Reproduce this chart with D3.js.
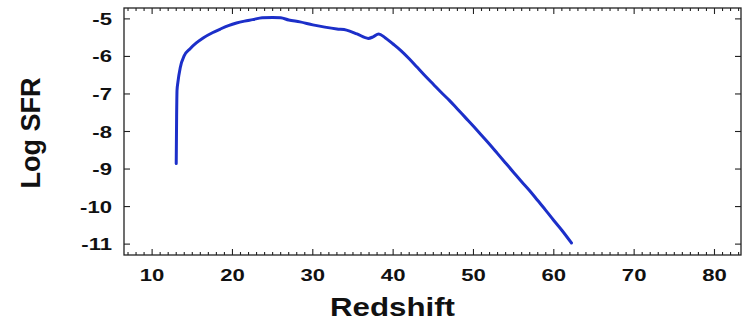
<!DOCTYPE html>
<html>
<head>
<meta charset="utf-8">
<script src="https://cdn.jsdelivr.net/npm/d3@7"></script>
<style>
  html, body { margin: 0; padding: 0; background: #fff; }
  svg { display: block; }
  text { font-family: "Liberation Sans", Arial, sans-serif; font-weight: bold; fill: #111; }
</style>
</head>
<body>
<svg id="chart" width="743" height="320"></svg>
<script>
// Star formation rate history: redshift vs log SFR
const redshift = [13.0, 13.05, 13.1, 13.2, 13.5, 14.0, 14.7, 15.5, 16.4, 17.5, 18.5, 19.5, 20.5, 21.5, 22.5,
  23.7, 25.0, 26.0, 27.0, 28.4, 30.0, 31.5, 33.0, 34.2, 35.5, 36.9, 37.5, 38.2, 39.0, 40.0,
  41.0, 42.0, 43.0, 44.0, 45.0, 46.0, 47.0, 48.0, 49.0, 50.0, 51.0, 52.0, 53.0, 54.0, 55.0,
  56.0, 57.0, 58.0, 59.0, 60.0, 61.0, 62.2];
const logSFR = [-8.85, -7.6, -6.9, -6.7, -6.3, -5.98, -5.8, -5.64, -5.5, -5.37, -5.27, -5.18, -5.11, -5.06, -5.02,
  -4.97, -4.96, -4.97, -5.03, -5.08, -5.16, -5.22, -5.27, -5.30, -5.40, -5.52, -5.48, -5.40, -5.50, -5.67,
  -5.85, -6.06, -6.29, -6.52, -6.74, -6.96, -7.17, -7.40, -7.63, -7.86, -8.10, -8.34, -8.59, -8.84, -9.09,
  -9.34, -9.58, -9.84, -10.10, -10.37, -10.63, -10.97];
const xTicks = [10, 20, 30, 40, 50, 60, 70, 80];
const yTicks = [-5, -6, -7, -8, -9, -10, -11];
const xMinorTicks = d3.range(7, 84, 1).filter(v => v % 10 !== 0);

const svg = d3.select("#chart");
const plot = { left: 124, top: 8, right: 741, bottom: 255 };

const x = d3.scaleLinear().domain([6.5, 83.3]).range([plot.left, plot.right]);
const y = d3.scaleLinear().domain([-4.71, -11.29]).range([plot.top, plot.bottom]);

// Frame
svg.append("rect")
  .attr("x", plot.left).attr("y", plot.top)
  .attr("width", plot.right - plot.left).attr("height", plot.bottom - plot.top)
  .attr("fill", "none").attr("stroke", "#222").attr("stroke-width", 1.3);

// Inward ticks on all four sides
const tickG = svg.append("g").attr("stroke", "#222").attr("stroke-width", 1.1);
function hTicks(values, len) {
  values.forEach(v => {
    tickG.append("line").attr("x1", x(v)).attr("x2", x(v)).attr("y1", plot.bottom).attr("y2", plot.bottom - len);
    tickG.append("line").attr("x1", x(v)).attr("x2", x(v)).attr("y1", plot.top).attr("y2", plot.top + len);
  });
}
hTicks(xTicks, 6);
hTicks(xMinorTicks, 3);
yTicks.forEach(v => {
  tickG.append("line").attr("x1", plot.left).attr("x2", plot.left + 6).attr("y1", y(v)).attr("y2", y(v));
  tickG.append("line").attr("x1", plot.right).attr("x2", plot.right - 6).attr("y1", y(v)).attr("y2", y(v));
});

// Tick labels (wide bold face)
const sx = 1.3;
svg.append("g").selectAll("text").data(xTicks).join("text")
  .attr("transform", d => `translate(${x(d)},${281}) scale(${sx},1)`)
  .attr("text-anchor", "middle")
  .attr("font-size", 17)
  .text(d => d);

svg.append("g").selectAll("text").data(yTicks).join("text")
  .attr("transform", d => `translate(112,${y(d) + 6}) scale(${sx},1)`)
  .attr("text-anchor", "end")
  .attr("font-size", 17)
  .text(d => d);

// Axis titles
svg.append("text")
  .attr("transform", `translate(392.5,316) scale(1.25,1)`)
  .attr("text-anchor", "middle")
  .attr("font-size", 25)
  .text("Redshift");

svg.append("text")
  .attr("transform", `translate(40,133) rotate(-90)`)
  .attr("text-anchor", "middle")
  .attr("font-size", 27)
  .text("Log SFR");

// SFR curve
const line = d3.line()
  .x((d, i) => x(redshift[i]))
  .y(d => y(d))
  .curve(d3.curveMonotoneX);

svg.append("path")
  .datum(logSFR)
  .attr("d", line)
  .attr("fill", "none")
  .attr("stroke", "#1c2fc9")
  .attr("stroke-width", 3)
  .attr("stroke-linejoin", "round")
  .attr("stroke-linecap", "round");
</script>
</body>
</html>
